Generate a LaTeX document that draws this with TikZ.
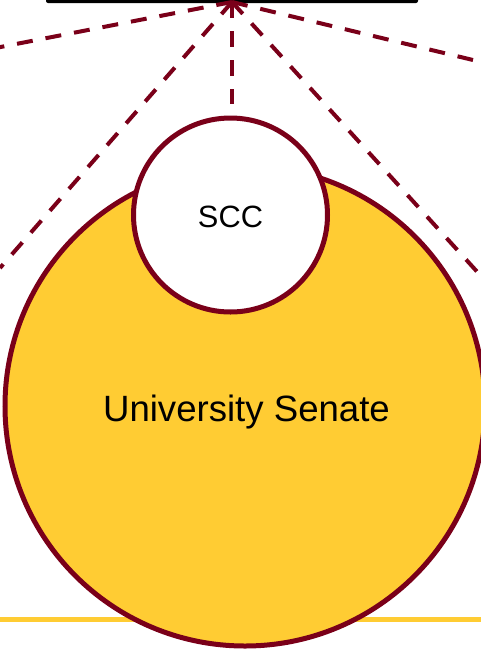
\documentclass[tikz,border=0pt]{standalone}
\usepackage{fontspec}
\setmainfont{Liberation Sans}
\definecolor{umnmaroon}{HTML}{7A0019}
\definecolor{umngold}{HTML}{FFCC33}
\begin{document}
\begin{tikzpicture}[x=1pt,y=-1pt,
  link/.style={draw=umnmaroon,line width=4pt,dash pattern=on 16pt off 13pt},
  bigcircle/.style={circle,draw=umnmaroon,fill=umngold,line width=5pt,inner sep=0pt},
  smallcircle/.style={circle,draw=umnmaroon,fill=white,line width=5pt,inner sep=0pt}]
\useasboundingbox (0,0) rectangle (481,649);
\clip (0,0) rectangle (481,649);
% top bar
\fill[black,rounded corners=2pt] (46,-10) rectangle (418,3);
% hub and line ends
\coordinate (hub) at (232,2);
\coordinate (endA) at (-20,51);
\coordinate (endB) at (0,268);
\coordinate (endC) at (232,104);
\coordinate (endD) at (481,276);
\coordinate (endE) at (473,60);
\draw[link] (hub) -- (endA);
\draw[link] (hub) -- (endB);
\draw[link] (hub) -- (endC);
\draw[link] (hub) -- (endD);
\draw[link] (hub) -- (endE);
% gold rule
\coordinate (ruleL) at (0,619);
\coordinate (ruleR) at (481,619);
\draw[umngold,line width=5pt] (ruleL) -- (ruleR);
% circles
\node[bigcircle,minimum size=480pt] (senate) at (245,406) {};
\node[smallcircle,minimum size=194pt] (scc) at (230.5,215) {};
% labels
\node[anchor=base,inner sep=0pt,font=\fontsize{36.6}{40}\selectfont] (senatelabel) at (246.5,421) {University Senate};
\node[anchor=base,inner sep=0pt,font=\fontsize{30.8}{34}\selectfont] (scclabel) at (230.5,227) {SCC};
\end{tikzpicture}
\end{document}
